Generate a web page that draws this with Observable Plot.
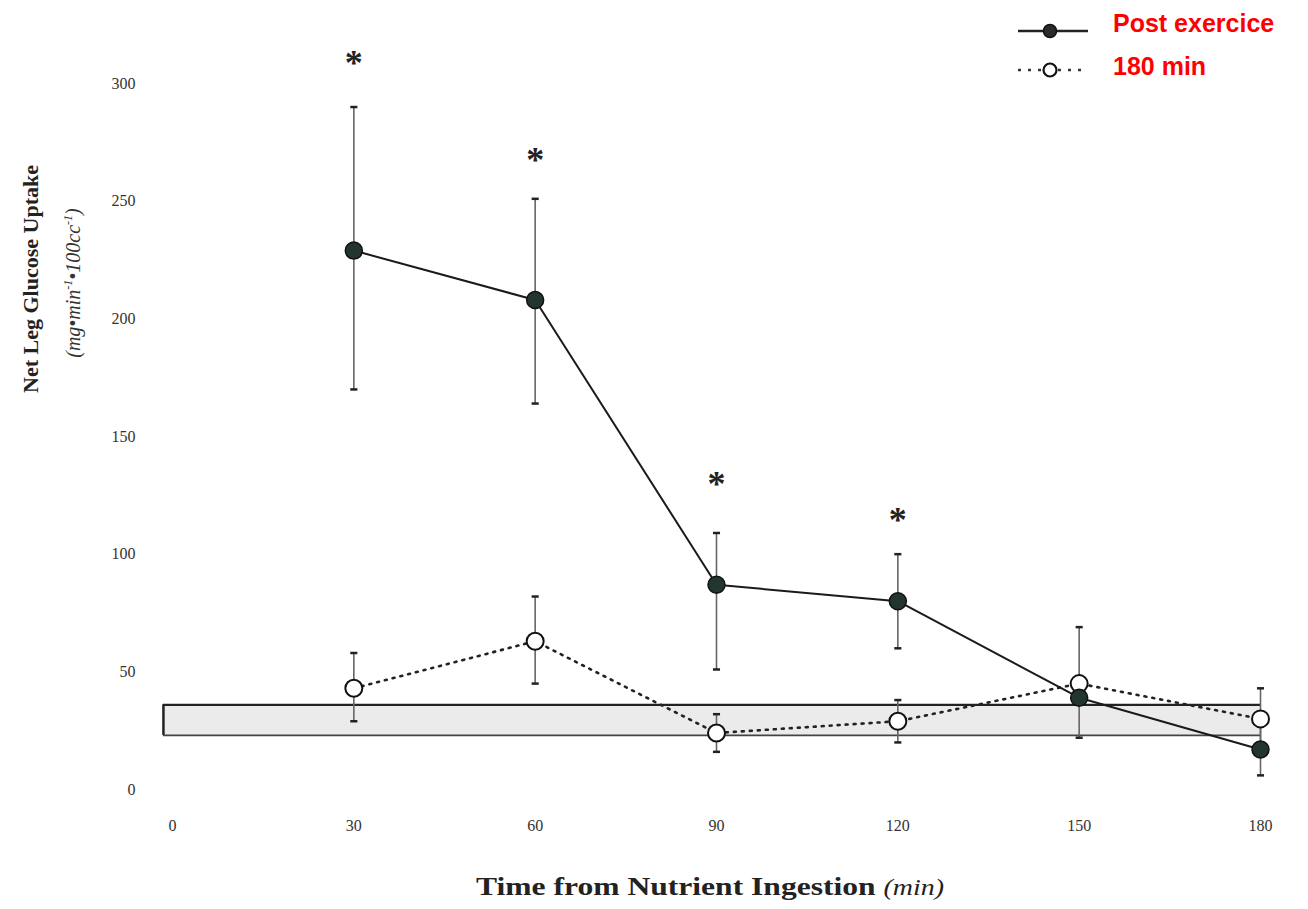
<!DOCTYPE html>
<html>
<head>
<meta charset="utf-8">
<script src="https://cdn.jsdelivr.net/npm/d3@7"></script>
<script src="https://cdn.jsdelivr.net/npm/@observablehq/plot@0.6"></script>
<style>
  html, body { margin: 0; padding: 0; background: #fff; }
  #wrap { position: relative; width: 1308px; height: 909px; overflow: hidden; }
  #legend { position: absolute; left: 1000px; top: 0px; }
</style>
</head>
<body>
<div id="wrap"></div>
<script>
// ---- data ----
const times = [30, 60, 90, 120, 150, 180];
const postMean = [229, 208, 87, 80, 39, 17];
const postLow  = [170, 164, 51, 60, 22, 6];
const postHigh = [290, 251, 109, 100, 69, 28];
const restMean = [43, 63, 24, 29, 45, 30];
const restLow  = [29, 45, 16, 20, null, 17];
const restHigh = [58, 82, 32, 38, null, 43];
const sigTimes = [30, 60, 90, 120];
const sigY = [311, 270, 132, 117];
const bandLow = 23, bandHigh = 36, bandStart = -1.5, bandEnd = 180;
const xTicks = [0, 30, 60, 90, 120, 150, 180];
const yTicks = [0, 50, 100, 150, 200, 250, 300];
const seriesNames = ["Post exercice", "180 min"];

const post = times.map((t, i) => ({t, m: postMean[i], lo: postLow[i], hi: postHigh[i]}));
const rest = times.map((t, i) => ({t, m: restMean[i], lo: restLow[i], hi: restHigh[i]}));
const restErr = rest.filter(d => d.lo != null);
const sig = sigTimes.map((t, i) => ({t, y: sigY[i]}));
const band = [{x1: bandStart, x2: bandEnd, y1: bandLow, y2: bandHigh}];

const cap = { draw(ctx, size) { const w = Math.sqrt(size) / 2; ctx.moveTo(-w, 0); ctx.lineTo(w, 0); } };

const plot = Plot.plot({
  width: 1308,
  height: 909,
  marginLeft: 172,
  marginRight: 48,
  marginTop: 83,
  marginBottom: 120,
  style: { fontFamily: "'Liberation Serif', serif", background: "transparent" },
  x: { domain: [0, 180], ticks: xTicks, tickSize: 0, tickPadding: 30, label: null },
  y: { domain: [0, 300], ticks: yTicks, tickSize: 0, tickPadding: 37, label: null },
  marks: [
    Plot.rect(band, {x1: "x1", x2: "x2", y1: "y1", y2: "y2", fill: "#ebebeb"}),
    Plot.ruleY(band, {y: "y2", x1: "x1", x2: "x2", stroke: "#222", strokeWidth: 2.2}),
    Plot.ruleY(band, {y: "y1", x1: "x1", x2: "x2", stroke: "#444", strokeWidth: 1.8}),
    Plot.ruleX(band, {x: "x1", y1: "y1", y2: "y2", stroke: "#222", strokeWidth: 2.5}),
    // error bars
    Plot.ruleX(post, {x: "t", y1: "lo", y2: "hi", stroke: "#666", strokeWidth: 1.6}),
    Plot.dot(post, {x: "t", y: "hi", symbol: cap, r: 4, stroke: "#222", strokeWidth: 2.5}),
    Plot.dot(post, {x: "t", y: "lo", symbol: cap, r: 4, stroke: "#222", strokeWidth: 2.5}),
    Plot.ruleX(restErr, {x: "t", y1: "lo", y2: "hi", stroke: "#666", strokeWidth: 1.6}),
    Plot.dot(restErr, {x: "t", y: "hi", symbol: cap, r: 4, stroke: "#222", strokeWidth: 2.5}),
    Plot.dot(restErr, {x: "t", y: "lo", symbol: cap, r: 4, stroke: "#222", strokeWidth: 2.5}),
    // lines
    Plot.line(rest, {x: "t", y: "m", stroke: "#222", strokeWidth: 2.6, strokeDasharray: "2,6", strokeLinecap: "round"}),
    Plot.line(post, {x: "t", y: "m", stroke: "#1a1a1a", strokeWidth: 2}),
    // points
    Plot.dot(rest, {x: "t", y: "m", r: 8.5, fill: "#fff", stroke: "#111", strokeWidth: 2}),
    Plot.dot(post, {x: "t", y: "m", r: 8.5, fill: "#22352f", stroke: "#111", strokeWidth: 1.5}),
    // significance
    Plot.text(sig, {x: "t", y: "y", text: () => "*", fontSize: 36, fontWeight: "bold", fill: "#222", dy: 6})
  ]
});

plot.querySelectorAll("g[aria-label='x-axis tick label'], g[aria-label='y-axis tick label']").forEach(g => {
  g.setAttribute("font-size", "16"); g.setAttribute("fill", "#333");
});

const svg = d3.select(plot);
// y-axis title
svg.append("text")
  .attr("transform", "translate(38,279) rotate(-90)")
  .attr("text-anchor", "middle")
  .attr("font-family", "'Liberation Serif', serif")
  .attr("font-weight", "bold").attr("font-size", 22).attr("fill", "#222")
  .text("Net Leg Glucose Uptake");
const yu = svg.append("text")
  .attr("transform", "translate(80,283) rotate(-90)")
  .attr("text-anchor", "middle")
  .attr("font-family", "'Liberation Serif', serif")
  .attr("font-style", "italic").attr("font-size", 20).attr("fill", "#333");
yu.append("tspan").text("(mg•min");
yu.append("tspan").attr("dy", -8).attr("font-size", 12).text("-1");
yu.append("tspan").attr("dy", 8).text("•100cc");
yu.append("tspan").attr("dy", -8).attr("font-size", 12).text("-1");
yu.append("tspan").attr("dy", 8).text(")");
// x-axis title
const xl = svg.append("text")
  .attr("x", 710).attr("y", 895)
  .attr("text-anchor", "middle")
  .attr("font-family", "'Liberation Serif', serif")
  .attr("font-size", 26).attr("fill", "#222")
  .attr("textLength", 468).attr("lengthAdjust", "spacingAndGlyphs");
xl.append("tspan").attr("font-weight", "bold").text("Time from Nutrient Ingestion ");
xl.append("tspan").attr("font-style", "italic").attr("font-size", 23).text("(min)");

document.getElementById("wrap").appendChild(plot);

// legend
const leg = d3.select("#wrap").append("svg").attr("id", "legend").attr("width", 308).attr("height", 90);
leg.append("line").attr("x1", 18).attr("x2", 88).attr("y1", 31).attr("y2", 31).attr("stroke", "#222").attr("stroke-width", 2.5);
leg.append("circle").attr("cx", 50).attr("cy", 31).attr("r", 6.5).attr("fill", "#2a2a2a").attr("stroke", "#111").attr("stroke-width", 1.5);
leg.append("line").attr("x1", 18).attr("x2", 88).attr("y1", 70).attr("y2", 70).attr("stroke", "#333").attr("stroke-width", 2.5).attr("stroke-dasharray", "3,7");
leg.append("circle").attr("cx", 50).attr("cy", 70).attr("r", 6.5).attr("fill", "#fff").attr("stroke", "#111").attr("stroke-width", 2.2);
leg.append("text").attr("x", 113).attr("y", 32).attr("font-family", "'Liberation Sans', Arial, sans-serif").attr("font-weight", "bold").attr("font-size", 25).attr("fill", "#ff0000").text(seriesNames[0]);
leg.append("text").attr("x", 113).attr("y", 75).attr("font-family", "'Liberation Sans', Arial, sans-serif").attr("font-weight", "bold").attr("font-size", 25).attr("fill", "#ff0000").text(seriesNames[1]);
</script>
</body>
</html>
